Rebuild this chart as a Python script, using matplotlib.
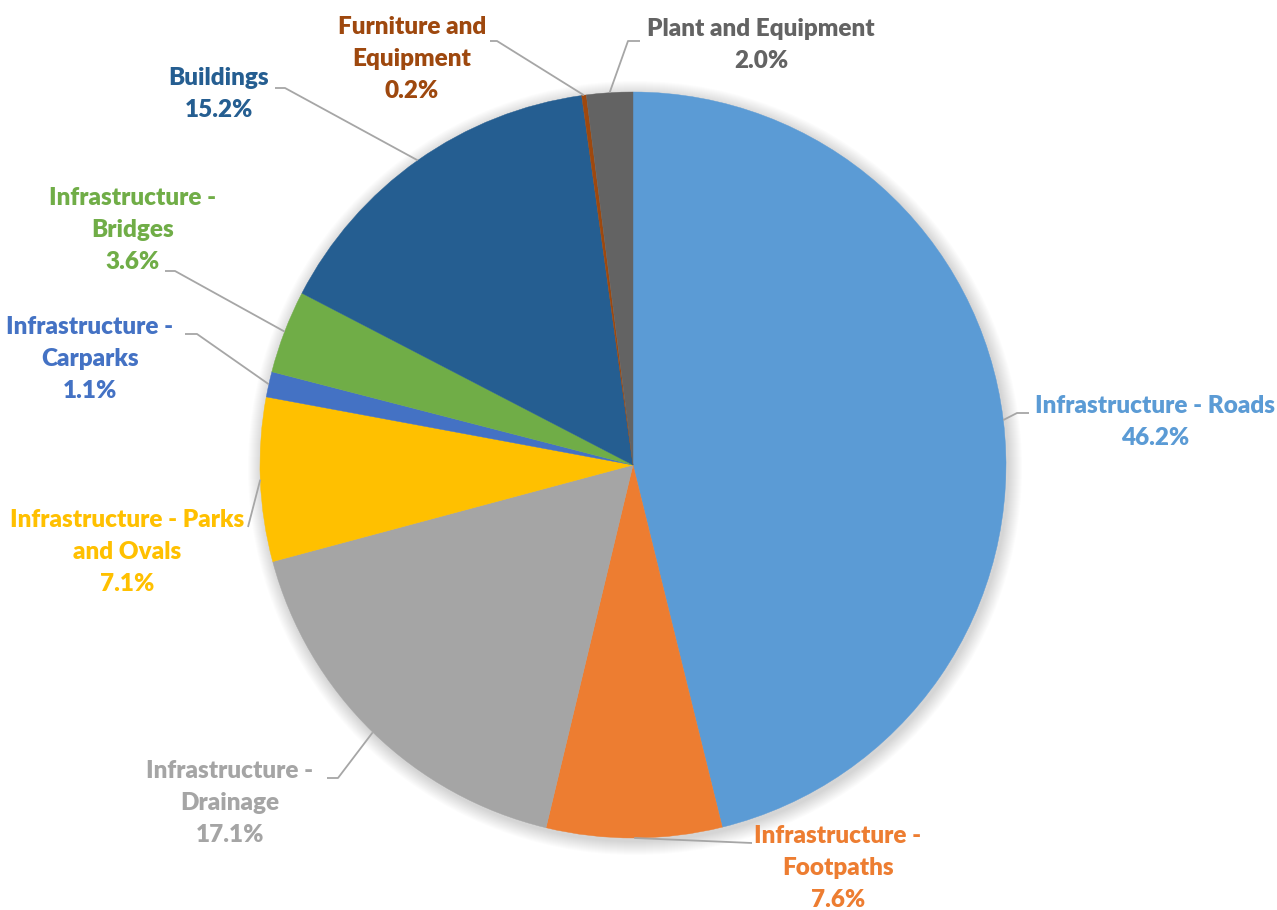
import numpy as np
import matplotlib
matplotlib.use('Agg')
import matplotlib.pyplot as plt
from matplotlib.patches import Circle

# asset classes, clockwise from 12 o'clock
categories = ['Infrastructure - Roads', 'Infrastructure - Footpaths', 'Infrastructure - Drainage',
              'Infrastructure - Parks and Ovals', 'Infrastructure - Carparks', 'Infrastructure - Bridges',
              'Buildings', 'Furniture and Equipment', 'Plant and Equipment']
label_text = ['Infrastructure - Roads', 'Infrastructure -\nFootpaths', 'Infrastructure -\nDrainage',
              'Infrastructure - Parks\nand Ovals', 'Infrastructure -\nCarparks', 'Infrastructure -\nBridges',
              'Buildings', 'Furniture and\nEquipment', 'Plant and Equipment']
shares = [46.2, 7.6, 17.1, 7.1, 1.1, 3.6, 15.2, 0.2, 2.0]
colors = ['#5B9BD5', '#ED7D31', '#A5A5A5', '#FFC000', '#4472C4',
          '#70AD47', '#255E91', '#9E480E', '#636363']

# where each label sits and how its leader line bends (pixel space)
label_pos = [(1155, 422), (838, 868), (230, 803), (127, 552), (90, 359),
             (133, 230), (219, 94), (412, 59), (761, 45)]
elbows = [(1017, 413, 1029), (752, 843, 752), (338, 778, 327), (248, 527, 248),
          (197, 334, 185), (175, 271, 165), (285, 88, 275), (497, 41, 490), (628, 41, 640)]

cx, cy, R = 633, 465, 373

fig = plt.figure(figsize=(12.77, 9.10), dpi=100)
ax = fig.add_axes([0, 0, 1, 1])

# soft shadow around the pie
for i in range(14):
    ax.add_patch(Circle((cx + 2, cy + 3), R + 14 - i, color='black', alpha=0.012, lw=0, zorder=0))

wedges, _ = ax.pie(shares, colors=colors, startangle=270, counterclock=True,
                   center=(cx, cy), radius=R,
                   wedgeprops=dict(linewidth=0.3, edgecolor='white'))
for w, c in zip(wedges, colors):
    w.set_edgecolor(c)
    w.set_zorder(2)

for w, txt, v, c, (lx, ly), (ex, ey, hx) in zip(wedges, label_text, shares, colors, label_pos, elbows):
    mid = np.deg2rad((w.theta1 + w.theta2) / 2)
    sx = cx + R * np.cos(mid)
    sy = cy + R * np.sin(mid)
    ax.plot([sx, ex, hx], [sy, ey, ey], color='#A6A6A6', lw=1.3, zorder=3,
            solid_capstyle='butt')
    ax.text(lx, ly, f'{txt}\n{v:.1f}%', ha='center', va='center', multialignment='center',
            color=c, fontsize=17.5, fontweight='heavy', family='Lato', linespacing=1.55)

ax.set_xlim(0, 1277)
ax.set_ylim(910, 0)
ax.set_aspect('equal')
ax.axis('off')

fig.savefig('out.png', dpi=100, facecolor='white')
